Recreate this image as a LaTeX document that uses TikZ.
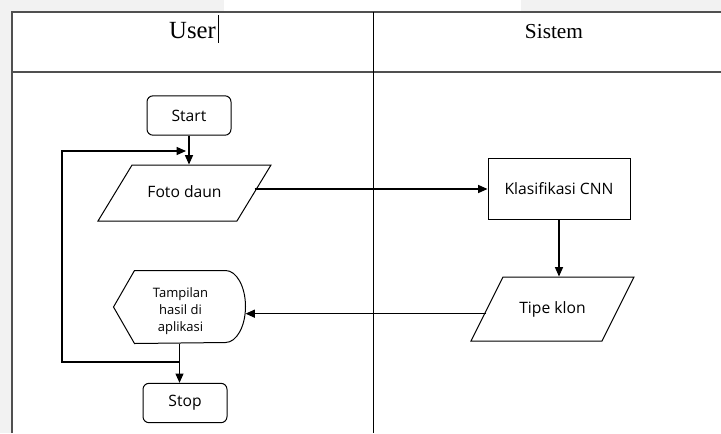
\documentclass[tikz,border=0pt]{standalone}
\usepackage{fontspec}
\setmainfont{Liberation Serif}
\newfontfamily\vsfont{Open Sans}
\usetikzlibrary{shapes.geometric,arrows.meta}

\definecolor{pagegray}{RGB}{242,242,242}
\definecolor{rulegray}{RGB}{80,80,80}

\tikzset{every picture/.style={line width=0.75pt}}
\tikzset{
  boxfont/.style={font=\vsfont\fontsize{11.75}{13}\selectfont},
  terminal/.style={draw, boxfont, rounded corners=4.5pt, minimum width=63pt, minimum height=29.5pt, inner sep=0pt},
  process/.style={draw, boxfont, minimum width=106.5pt, minimum height=45.75pt, inner sep=0pt},
  io/.style={draw, boxfont, trapezium, trapezium stretches body, inner xsep=0pt, text height=8pt, text depth=2pt},
  header/.style={anchor=base, inner sep=0pt},
  flow/.style={line width=0.95pt, -{Triangle[length=7pt,width=6pt]}},
}

\begin{document}
\begin{tikzpicture}[x=0.75pt,y=0.75pt,yscale=-1,xscale=1]
\useasboundingbox (0,0) rectangle (721,433);

% page background
\fill[pagegray] (0,0) rectangle (721,433);
\fill[white] (12,12) rectangle (721,433);
\fill[white] (224,0) rectangle (521,12);

% swimlane table
\draw[rulegray, line width=1.5pt] (12,433) -- (12,12) -- (721,12);
\draw[rulegray, line width=1.5pt] (12,72) -- (721,72);
\draw[line width=0.75pt] (373,12) -- (373,433);

% Text Node
\node[header, font=\fontsize{18.5}{20}\selectfont] (user) at (192.5,38) {User};
\draw[line width=0.6pt] (218,15) -- (218,43);
% Text Node
\node[header, font=\fontsize{16}{20}\selectfont] (sistem) at (554,38) {Sistem};

% lane User
\node[terminal] (start) at (189,115.5) {Start};
\node[io, minimum width=129.75pt, inner ysep=16pt, trapezium left angle=58.7, trapezium right angle=121.3] (foto) at (184.5,193) {Foto daun};
\node[minimum width=98.25pt, minimum height=54pt, inner sep=0pt] (tampil) at (179.5,307) {};
\draw (tampil.west) -- ([xshift=15.75pt]tampil.north west) -- ([xshift=-15pt]tampil.north east)
  arc[start angle=-90, end angle=90, x radius=20, y radius=36] -- ([xshift=15.75pt]tampil.south west) -- cycle;
\node[align=center, inner sep=0pt, font=\vsfont\fontsize{9.75}{13}\selectfont] (tampiltext) at (180.5,311) {Tampilan\\hasil di\\aplikasi};
\node[terminal] (stop) at (185,403) {Stop};

% lane Sistem
\node[process] (klas) at (559,188.5) {Klasifikasi CNN};
\node[io, minimum width=122.25pt, inner ysep=19pt, trapezium left angle=63.4, trapezium right angle=116.6] (tipe) at (552.5,309) {Tipe klon};

% loop back
\coordinate (j1) at (tampil.south |- 0,362);
\coordinate (j2) at (186,151);

% connectors
\draw[flow] (start.south) -- (start.south |- foto.north);
\draw[flow] ([yshift=-3pt]foto.east) coordinate (f1) -- (f1 -| klas.west);
\draw[flow] (klas.south) -- (klas.south |- tipe.north);
\draw[flow] ([yshift=3.5pt]tipe.west) coordinate (t1) -- (t1 -| tampil.east);
\draw[flow] (tampil.south) -- (tampil.south |- stop.north);
\draw[flow] (j1) -- (62,362) -- (62,151) -- (j2);

\end{tikzpicture}
\end{document}
